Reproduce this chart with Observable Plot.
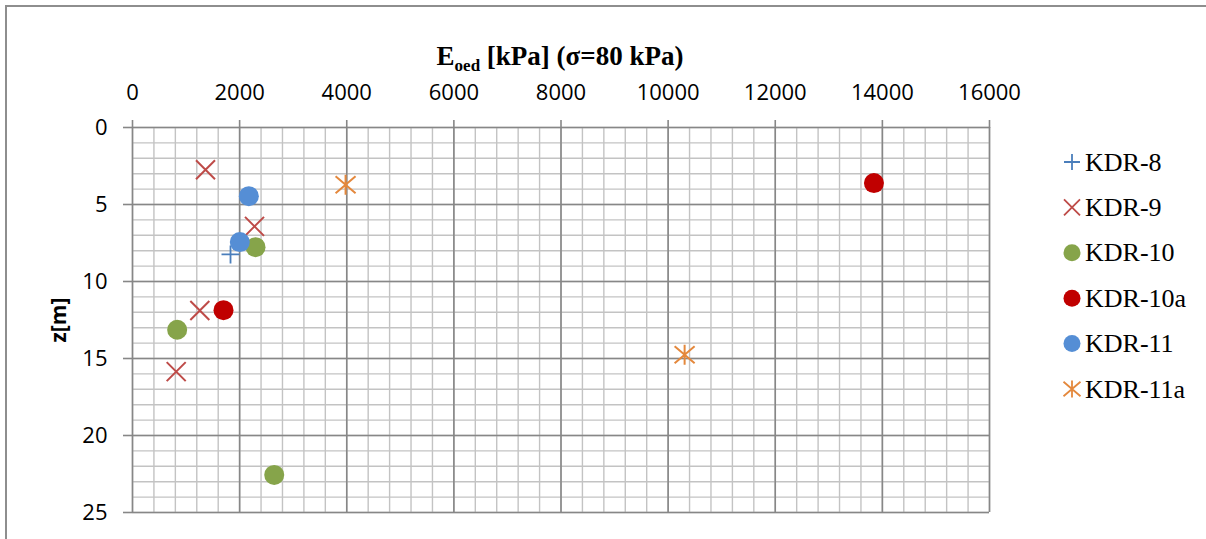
<!DOCTYPE html>
<html><head><meta charset="utf-8">
<script src="https://cdn.jsdelivr.net/npm/d3@7"></script>
<script src="https://cdn.jsdelivr.net/npm/@observablehq/plot@0.6"></script>
<style>
body{margin:0;background:#fff;}
#wrap{position:relative;width:1206px;height:539px;overflow:hidden;background:#fff;}
#border{position:absolute;left:5px;top:5px;width:1400px;height:800px;border:2px solid #8e8e8e;box-sizing:border-box;}
#wrap svg{position:absolute;left:0;top:0;}
</style></head><body><div id="wrap"><div id="border"></div></div>
<script>
// ---- data ----
const seriesNames   = ["KDR-8", "KDR-9", "KDR-10", "KDR-10a", "KDR-11", "KDR-11a"];
const seriesColors  = ["#4a7ebb", "#be4b48", "#86a44a", "#c00000", "#558ed5", "#e4883c"];
const seriesSymbols = ["plus", "times", "circle", "circle", "circle", "star"];

const kdr8E   = [1830];                  const kdr8Z   = [8.24];
const kdr9E   = [1363, 2278, 1257, 816]; const kdr9Z   = [2.74, 6.42, 11.88, 15.85];
const kdr10E  = [2297, 834, 2646];       const kdr10Z  = [7.77, 13.13, 22.56];
const kdr10aE = [1699, 13843];           const kdr10aZ = [11.86, 3.61];
const kdr11E  = [2172, 2004];            const kdr11Z  = [4.46, 7.44];
const kdr11aE = [3978, 10308];           const kdr11aZ = [3.72, 14.75];

const xTicks = [0, 2000, 4000, 6000, 8000, 10000, 12000, 14000, 16000];
const yTicks = [0, 5, 10, 15, 20, 25];

const seriesE = [kdr8E, kdr9E, kdr10E, kdr10aE, kdr11E, kdr11aE];
const seriesZ = [kdr8Z, kdr9Z, kdr10Z, kdr10aZ, kdr11Z, kdr11aZ];

const rows = seriesNames.flatMap((name, i) =>
  seriesE[i].map((e, j) => ({series: name, e, z: seriesZ[i][j]})));

// custom stroked symbols: half-extent = sqrt(size/π)
const symPlus = {draw(c, size) { const r = Math.sqrt(size / Math.PI);
  c.moveTo(-r, 0); c.lineTo(r, 0); c.moveTo(0, -r); c.lineTo(0, r); }};
const symTimes = {draw(c, size) { const r = Math.sqrt(size / Math.PI);
  c.moveTo(-r, -r); c.lineTo(r, r); c.moveTo(-r, r); c.lineTo(r, -r); }};
const symStar = {draw(c, size) { const r = Math.sqrt(size / Math.PI);
  c.moveTo(-r, -r * 0.85); c.lineTo(r, r * 0.85); c.moveTo(-r, r * 0.85); c.lineTo(r, -r * 0.85);
  c.moveTo(0, -r); c.lineTo(0, r); }};
const symbolOf = {plus: symPlus, times: symTimes, circle: d3.symbolCircle, star: symStar};

const plotR  = {plus: 9, times: 9.5, circle: 10, star: 10};
const plotSW = {plus: 1.8, times: 2, circle: 0, star: 2};
const legR   = {plus: 8, times: 8, circle: 8.5, star: 8.5};

const xMinor = d3.range(0, 16001, 400);
const yMinor = d3.range(0, 25.01, 1);

const dotMarks = seriesNames.map((name, i) => {
  const sym = seriesSymbols[i];
  const filled = sym === "circle";
  return Plot.dot(rows.filter(d => d.series === name), {
    x: "e", y: "z", symbol: symbolOf[sym], r: plotR[sym],
    fill: filled ? seriesColors[i] : "none",
    stroke: filled ? "none" : seriesColors[i],
    strokeWidth: plotSW[sym]
  });
});

const chart = Plot.plot({
  width: 1206, height: 539,
  marginLeft: 132, marginRight: 217, marginTop: 127, marginBottom: 27,
  x: {domain: [0, 16000]},
  y: {domain: [0, 25], reverse: true},
  style: {fontFamily: "'Open Sans', sans-serif", fontSize: "22px", color: "#000", background: "transparent", overflow: "visible"},
  marks: [
    Plot.ruleX(xMinor, {stroke: "#c3c3c3", strokeWidth: 1.4}),
    Plot.ruleY(yMinor, {stroke: "#c3c3c3", strokeWidth: 1.4}),
    Plot.ruleX(xTicks, {stroke: "#878787", strokeWidth: 1.6}),
    Plot.ruleY(yTicks, {stroke: "#878787", strokeWidth: 1.6}),
    Plot.axisX({anchor: "top", ticks: xTicks, tickSize: 8, tickPadding: 20, stroke: "#878787", strokeWidth: 1.6, tickFormat: d => String(d), label: null}),
    Plot.axisY({anchor: "left", ticks: yTicks, tickSize: 9, tickPadding: 16, stroke: "#878787", strokeWidth: 1.6, tickFormat: d => String(d), label: null}),
    ...dotMarks
  ]
});
document.getElementById("wrap").appendChild(chart);

// ---- overlay: title, y label, legend ----
const ov = d3.select("#wrap").append("svg")
  .attr("width", 1206).attr("height", 539)
  .style("pointer-events", "none");

const serif = "'Liberation Serif', 'Times New Roman', serif";
const title = ov.append("text")
  .attr("x", 560).attr("y", 65)
  .attr("text-anchor", "middle")
  .style("font-family", serif)
  .style("font-weight", "bold").style("font-size", "27px");
title.append("tspan").text("E");
title.append("tspan").style("font-size", "17px").attr("dy", 6).text("oed");
title.append("tspan").attr("dy", -6).text(" [kPa] (σ=80 kPa)");

ov.append("text")
  .attr("transform", "translate(66,320) rotate(-90)")
  .attr("text-anchor", "middle")
  .style("font-family", "'Open Sans', sans-serif")
  .style("font-weight", "bold").style("font-size", "21px")
  .text("z[m]");

seriesNames.forEach((name, i) => {
  const sym = seriesSymbols[i];
  const cy = 162 + i * 45.4;
  const g = ov.append("g").attr("transform", `translate(1072,${cy})`);
  const filled = sym === "circle";
  g.append("path")
    .attr("d", d3.symbol(symbolOf[sym], Math.PI * legR[sym] * legR[sym])())
    .attr("fill", filled ? seriesColors[i] : "none")
    .attr("stroke", filled ? "none" : seriesColors[i])
    .attr("stroke-width", filled ? 0 : 1.8);
  ov.append("text")
    .attr("x", 1085).attr("y", cy + 8.5)
    .style("font-family", serif)
    .style("font-size", "26px")
    .text(name);
});
</script>
</body></html>
